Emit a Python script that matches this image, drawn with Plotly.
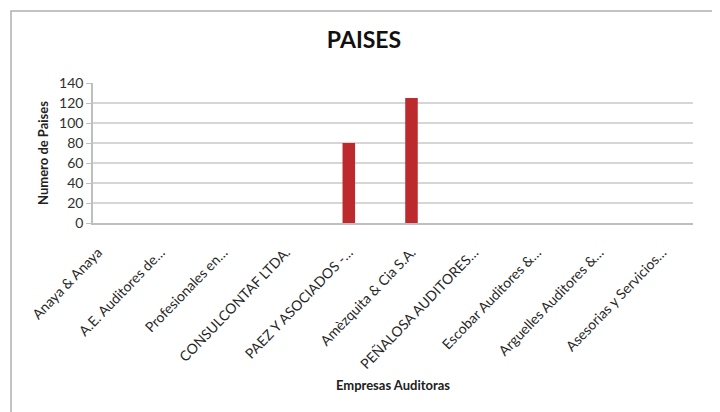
import plotly.graph_objects as go

empresas = [
    "Anaya & Anaya",
    "A.E. Auditores de…",
    "Profesionales en…",
    "CONSULCONTAF LTDA.",
    "PAEZ Y ASOCIADOS -…",
    "Amèzquita & Cia S.A.",
    "PEÑALOSA AUDITORES…",
    "Escobar Auditores &…",
    "Arguelles Auditores &…",
    "Asesorias y Servicios…",
]
paises = [0, 0, 0, 0, 80, 125, 0, 0, 0, 0]
y_ticks = [0, 20, 40, 60, 80, 100, 120, 140]

FONT = "Lato, 'Open Sans', sans-serif"

# page body has an 8px default margin -> figure is 712x404
W, H = 712, 404
L, T, R, B = 85, 75, 27, 189
PW, PH = W - L - R, H - T - B  # 600 x 140
OFF = 8

def px_x(img_x):
    return (img_x - OFF - L) / PW

def px_y(img_y):
    return (T + PH - (img_y - OFF)) / PH

fig = go.Figure(
    go.Bar(
        x=list(range(len(empresas))),
        y=paises,
        width=0.2,
        marker=dict(color="#bd2a2e", line=dict(width=0)),
    )
)

fig.update_layout(
    width=W,
    height=H,
    margin=dict(l=L, r=R, t=T, b=B, autoexpand=False),
    paper_bgcolor="white",
    plot_bgcolor="white",
    showlegend=False,
    title=dict(
        text="<b>PAISES</b>",
        x=0.5,
        xanchor="center",
        y=1 - 32 / H,
        yanchor="middle",
        font=dict(family=FONT, size=23, color="#111111"),
    ),
    font=dict(family=FONT, color="#404040"),
    shapes=[
        dict(
            type="rect",
            xref="paper",
            yref="paper",
            x0=px_x(11),
            x1=px_x(716),
            y0=px_y(430),
            y1=px_y(11),
            line=dict(color="#b0b0b0", width=1.5),
            fillcolor="rgba(0,0,0,0)",
            layer="below",
        )
    ],
)

fig.update_xaxes(
    automargin=False,
    tickmode="array",
    tickvals=list(range(len(empresas))),
    ticktext=empresas,
    tickangle=-46,
    range=[-0.08, 9.49],
    showgrid=False,
    showline=True,
    linecolor="#bfbfbf",
    linewidth=1.5,
    ticks="outside",
    ticklen=14,
    tickcolor="rgba(0,0,0,0)",
    tickfont=dict(family=FONT, size=14, color="#262626"),
    title=dict(
        text="<b>Empresas Auditoras</b>",
        font=dict(family=FONT, size=13, color="#202020"),
        standoff=10,
    ),
)

fig.update_yaxes(
    automargin=False,
    range=[0, 140],
    tickmode="array",
    tickvals=y_ticks,
    showgrid=True,
    gridcolor="#d6d6d6",
    gridwidth=2,
    showline=True,
    linecolor="#bfbfbf",
    linewidth=1.5,
    ticks="outside",
    ticklen=5,
    tickcolor="#bfbfbf",
    tickfont=dict(family=FONT, size=14, color="#303030"),
    zeroline=False,
    title=dict(
        text="<b>Numero de Paises</b>",
        font=dict(family=FONT, size=13, color="#202020"),
        standoff=8,
    ),
)

fig.write_html("out.html")
